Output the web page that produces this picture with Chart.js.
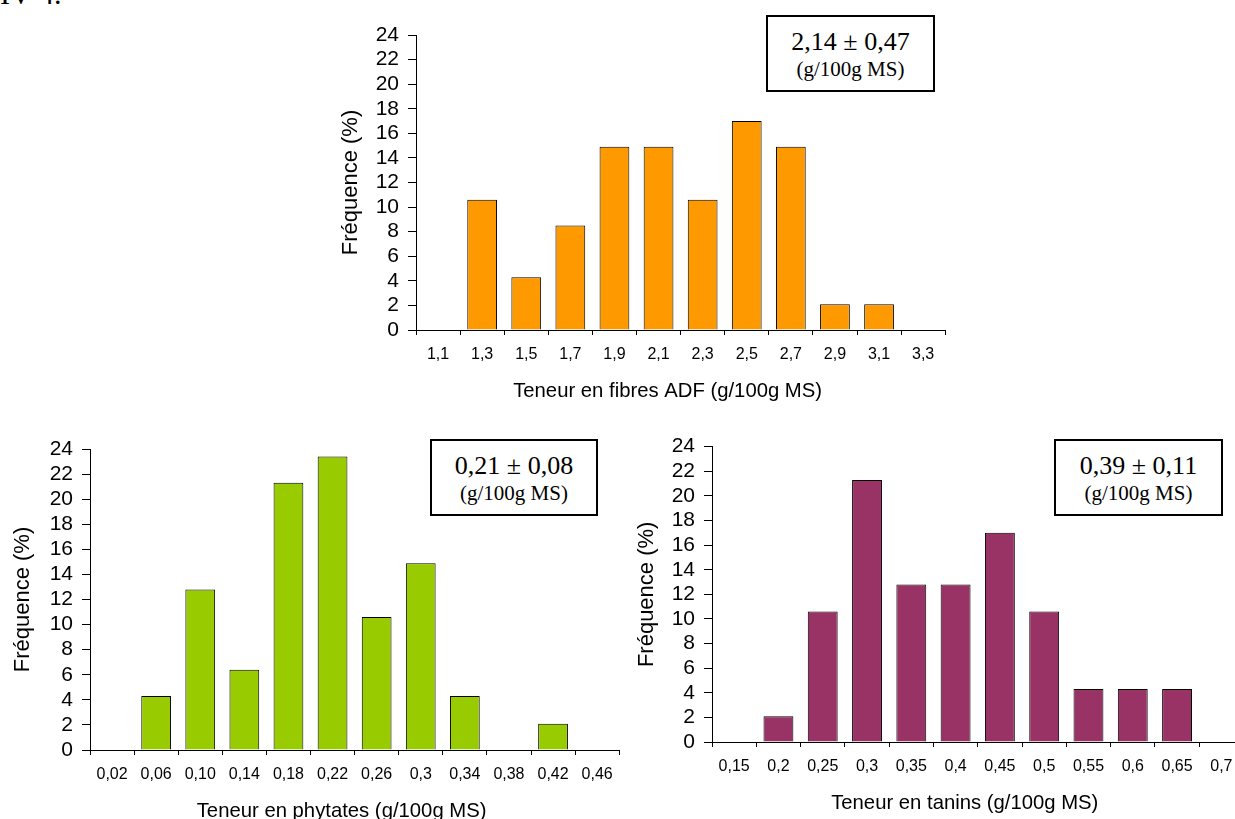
<!DOCTYPE html>
<html lang="fr">
<head>
<meta charset="utf-8">
<title>Distribution des teneurs en fibres ADF, phytates et tanins</title>
<script src="https://cdn.jsdelivr.net/npm/chart.js@4.4.1/dist/chart.umd.min.js"></script>
<style>
  html, body { margin: 0; padding: 0; background: #fff; }
  #page { position: relative; width: 1235px; height: 819px; overflow: hidden; background: #fff; }
  canvas { position: absolute; }
  .heading { position: absolute; left: 0; top: -21px; font: 30px/30px "Liberation Serif", "Times New Roman", serif; color: #000; white-space: nowrap; }
  .stat { position: absolute; box-sizing: border-box; border: 2px solid #000; background: #fff; color: #000;
          font-family: "Liberation Serif", "Times New Roman", serif; z-index: 2; }
  .stat .v { position: absolute; left: 0; right: 0; top: 10px; text-align: center; font-size: 26px; line-height: 30px; white-space: nowrap; }
  .stat .u { position: absolute; left: 0; right: 0; top: 39.5px; text-align: center; font-size: 21px; line-height: 24px; white-space: nowrap; }
</style>
</head>
<body>
<div id="page">
  <div class="heading">IV-4.</div>

  <canvas id="fibres" width="660" height="410" style="left:300px; top:0px;"></canvas>
  <canvas id="phytates" width="630" height="410" style="left:0px; top:420px;"></canvas>
  <canvas id="tanins" width="640" height="402" style="left:620px; top:420px;"></canvas>

  <div class="stat" style="left:766px; top:15px; width:169px; height:77px;">
    <div class="v">2,14 ± 0,47</div><div class="u">(g/100g MS)</div>
  </div>
  <div class="stat" style="left:430px; top:439px; width:168px; height:77px;">
    <div class="v">0,21 ± 0,08</div><div class="u">(g/100g MS)</div>
  </div>
  <div class="stat" style="left:1054px; top:439px; width:169px; height:77px;">
    <div class="v">0,39 ± 0,11</div><div class="u">(g/100g MS)</div>
  </div>
</div>

<script>
// Class centres (g/100g MS) and frequency of samples in each class (%)
const fibreClasses   = ['1,1', '1,3', '1,5', '1,7', '1,9', '2,1', '2,3', '2,5', '2,7', '2,9', '3,1', '3,3'];
const fibreFreq      = [0, 10.6, 4.3, 8.5, 14.9, 14.9, 10.6, 17.0, 14.9, 2.1, 2.1, 0];

const phytateClasses = ['0,02', '0,06', '0,10', '0,14', '0,18', '0,22', '0,26', '0,3', '0,34', '0,38', '0,42', '0,46'];
const phytateFreq    = [0, 4.3, 12.8, 6.4, 21.3, 23.4, 10.6, 14.9, 4.3, 0, 2.1, 0];

const taninClasses   = ['0,15', '0,2', '0,25', '0,3', '0,35', '0,4', '0,45', '0,5', '0,55', '0,6', '0,65', '0,7'];
const taninFreq      = [0, 2.1, 10.6, 21.3, 12.8, 12.8, 17.0, 10.6, 4.3, 4.3, 4.3, 0];

// Frequency axis: 0 to 24 % in steps of 2
const freqMin = 0;
const freqMax = 24;
const freqStep = 2;

const SANS = '"Liberation Sans", Arial, Helvetica, sans-serif';
Chart.defaults.font.family = SANS;
Chart.defaults.color = '#000';

// Category-axis title, drawn under the tick labels and set slightly left of the axis centre
const bottomTitle = {
  id: 'bottomTitle',
  afterDraw(chart, args, opts) {
    const x = chart.scales.x;
    const ctx = chart.ctx;
    ctx.save();
    ctx.font = opts.size + 'px ' + SANS;
    ctx.fillStyle = '#000';
    ctx.textAlign = 'center';
    ctx.textBaseline = 'middle';
    ctx.fillText(opts.text, (x.left + x.right) / 2 + opts.dx, x.top + opts.dy);
    ctx.restore();
  }
};

function histogram(id, classes, freq, fill, xTitle, geo) {
  return new Chart(document.getElementById(id), {
    type: 'bar',
    data: {
      labels: classes,
      datasets: [{
        data: freq,
        backgroundColor: fill,
        borderColor: '#000',
        borderWidth: 1,
        barPercentage: 0.675,
        categoryPercentage: 1
      }]
    },
    plugins: [bottomTitle],
    options: {
      responsive: false,
      animation: false,
      devicePixelRatio: 1,
      events: [],
      layout: { padding: { top: geo.top, right: geo.right, left: 0, bottom: 0 } },
      plugins: {
        legend: { display: false },
        tooltip: { enabled: false },
        bottomTitle: { text: xTitle, size: 20.3, dx: -13, dy: 61 }
      },
      scales: {
        x: {
          grid: { drawOnChartArea: false, drawTicks: true, tickLength: 5, color: '#000', offset: true },
          border: { display: true, color: '#000', width: 1 },
          ticks: { color: '#000', font: { size: 16 }, padding: 10.4, autoSkip: false, maxRotation: 0, minRotation: 0 },
          title: { display: false },
          afterFit(scale) { scale.height = 80; }
        },
        y: {
          min: freqMin,
          max: freqMax,
          grid: { drawOnChartArea: false, drawTicks: true, tickLength: 8, color: '#000' },
          border: { display: true, color: '#000', width: 1 },
          ticks: { stepSize: freqStep, autoSkip: false, color: '#000', font: { size: 21 }, padding: 9 },
          title: { display: true, text: 'Fréquence (%)', color: '#000', font: { size: 22 }, padding: { top: geo.titleGap, bottom: 0 } },
          afterFit(scale) { scale.width = geo.axisWidth; }
        }
      }
    }
  });
}

histogram('fibres', fibreClasses, fibreFreq, '#FF9900',
  'Teneur en fibres ADF (g/100g MS)',
  { top: 35, right: 14.8, axisWidth: 116, titleGap: 37.8 });

histogram('phytates', phytateClasses, phytateFreq, '#99CC00',
  'Teneur en phytates (g/100g MS)',
  { top: 29, right: 10.8, axisWidth: 90, titleGap: 9.8 });

histogram('tanins', taninClasses, taninFreq, '#993366',
  'Teneur en tanins (g/100g MS)',
  { top: 26.7, right: 16.5, axisWidth: 92, titleGap: 13.8 });
</script>
</body>
</html>
